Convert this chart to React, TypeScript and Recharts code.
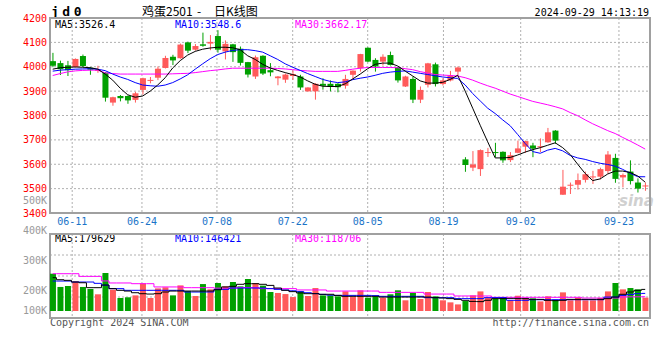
import React from 'react';
import { ComposedChart, Bar, Line, XAxis, YAxis, CartesianGrid, ReferenceArea, Cell } from 'recharts';

// ---- data ----
const OPEN = [4023,4015,4006,3999,4044,3996,3985,3976,3853,3880, 3880,3864,3905,3944,3955,3995,4041,4035,4100,4070,
  4092,4095,4126,4063,4092,4074,4019,3960,4045,3986, 3953,3947,3962,3960,3899,3899,3930,3930,3930,3922,
  3967,3994,4078,4028,4021,4048,3998,3919,3950,3865, 3926,4010,3929,3944,3980,3620,3586,3580,3648,3650,
  3651,3617,3647,3672,3677,3672,3690,3738,3475,3514, 3516,3536,3547,3549,3572,3626,3546,3570,3525,3510];
const HIGH = [4057,4025,4024,4034,4050,3998,4004,3978,3877,3884, 3882,3897,3955,3958,4001,4045,4049,4095,4103,4093,
  4140,4130,4150,4108,4094,4083,4020,4046,4047,4015, 3962,3972,3985,3967,3916,3933,3953,3944,3933,3967,
  3985,4053,4079,4035,4051,4062,4000,3963,3960,3919, 4016,4017,3953,3983,4001,3629,3654,3661,3667,3688,
  3653,3650,3697,3697,3688,3706,3749,3740,3577,3525, 3562,3570,3573,3586,3654,3643,3562,3616,3542,3525];
const LOW = [3998,3966,3962,3997,3998,3967,3975,3857,3840,3858, 3848,3853,3886,3932,3945,3993,4007,4033,4056,4066,
  4082,4068,4058,4030,4020,4005,3956,3950,3966,3961, 3924,3934,3946,3905,3898,3865,3906,3899,3895,3910,
  3949,3980,4019,3980,4005,4005,3935,3917,3851,3851, 3915,3919,3923,3940,3964,3569,3572,3552,3630,3629,
  3606,3609,3645,3647,3629,3650,3688,3684,3474,3478, 3496,3525,3519,3538,3561,3524,3505,3517,3484,3491];
const CLOSE = [4004,3990,3986,4032,4003,3988,3987,3873,3875,3871, 3862,3891,3953,3946,3992,4036,4026,4091,4066,4085,
  4086,4102,4070,4094,4060,4016,3968,4039,3972,3977, 3960,3968,3970,3915,3915,3930,3922,3917,3916,3950,
  3984,4052,4021,4001,4041,4007,3944,3960,3865,3905, 4014,3929,3944,3964,3997,3597,3599,3658,3650,3648,
  3616,3637,3665,3695,3664,3674,3731,3697,3508,3516, 3535,3559,3550,3580,3640,3540,3556,3531,3500,3513];

const MA5 = [3990,3996,3998,3999,3998,3996,3990,3970,3945,3912, 3885,3875,3880,3900,3925,3955,3995,4025,4048,4063,
  4072,4077,4080,4080,4078,4070,4045,4030,4010,3995, 3985,3976,3968,3958,3942,3928,3920,3919,3919,3930,
  3950,3970,3992,4010,4015,4015,4003,3982,3962,3942, 3933,3933,3936,3948,3965,3900,3830,3760,3692,3626,
  3626,3628,3638,3650,3660,3668,3678,3688,3668,3640, 3600,3562,3533,3540,3560,3572,3572,3566,3552,3526.4];
const MA10 = [3982,3986,3988,3990,3991,3992,3990,3984,3970,3958, 3948,3935,3925,3922,3920,3925,3935,3950,3967,3990,
  4012,4033,4050,4060,4067,4070,4070,4066,4060,4045, 4030,4012,3998,3985,3972,3960,3948,3940,3935,3938,
  3947,3953,3958,3965,3973,3978,3981,3983,3978,3973, 3968,3963,3958,3955,3952,3925,3890,3860,3830,3808,
  3782,3758,3722,3685,3652,3645,3658,3665,3655,3636, 3626,3620,3611,3604,3599,3592,3579,3563,3549,3548.6];
const MA30 = [3964,3972,3979,3983,3985,3986,3986,3975,3972,3970, 3970,3970,3970,3970,3970,3970,3971,3972,3973,3976,
  3980,3984,3987,3991,3994,3994,3994,3994,3994,3994, 3993,3991,3988,3985,3983,3981,3981,3981,3981,3985,
  3990,3994,3997,3997,3997,3997,3996,3992,3988,3980, 3974,3968,3966,3964,3962,3955,3945,3933,3922,3912,
  3900,3888,3878,3868,3858,3851,3844,3836,3827,3812, 3799,3782,3766,3752,3738,3726,3710,3695,3679,3662.17];

// volumes in thousands (K)
const VOL_K = [310,200,208,247,200,183,139,316,177,108, 114,130,230,108,188,197,130,213,166,125,
  224,180,233,205,241,205,266,233,211,158, 150,141,116,166,125,191,130,130,122,163,
  116,172,111,122,111,139,172,89,150,100, 158,122,89,72,55,83,130,163,111,103,
  111,89,127,108,105,80,122,94,155,89, 111,89,89,108,163,233,180,191,180,111];
const VMA5_K = [277,260,255,241,235,194,194,216,186,172, 166,152,144,141,144,158,166,166,166,166,
  166,166,177,200,205,222,227,227,222,213, 191,172,161,150,144,144,139,139,130,122,
  122,122,122,122,116,116,116,116,116,116, 116,111,108,103,97,89,80,78,89,103,
  103,105,105,103,97,97,89,86,89,97, 97,97,97,97,103,116,139,158,172,179.629];
const VMA10_K = [249,249,249,241,241,241,230,215,186,186, 172,172,172,172,172,172,172,172,158,158,
  158,158,180,180,191,191,191,191,191,186, 180,175,168,160,152,145,138,132,130,130,
  130,130,130,128,122,122,122,122,122,122, 111,111,111,111,103,103,103,103,111,111,
  111,89,89,89,94,94,94,94,94,94, 94,94,94,94,116,116,130,138,144,146.421];
const VMA30_K = [310,310,310,310,288,288,288,250,233,233, 233,227,227,227,200,200,200,200,194,194,
  194,194,190,190,190,195,195,195,186,186, 186,186,186,175,175,175,175,166,166,166,
  166,166,166,166,155,155,155,155,155,155, 141,141,141,141,125,125,125,125,125,114,
  114,114,114,114,114,114,114,114,114,114, 114,108,108,108,108,108,116,118,118,118.706];

const DATE_TICK_LABELS = ['06-11', '06-24', '07-08', '07-22', '08-05', '08-19', '09-02', '09-23'];
const DATE_TICK_POS = [2.6, 11.9, 21.9, 32.0, 42.0, 52.1, 62.4, 75.5];
const PRICE_TICKS = [3400, 3500, 3600, 3700, 3800, 3900, 4000, 4100, 4200];
const VOL_AXIS_LABELS = ['500K', '400K', '300K', '200K', '100K'];

const TITLE_CODE = 'jd0';
const TITLE_NAME = '鸡蛋2501';
const TITLE_KIND = '日K线图';
const TIMESTAMP = '2024-09-29 14:13:19';
const PRICE_LEGEND = ['MA5:3526.4', 'MA10:3548.6', 'MA30:3662.17'];
const VOL_LEGEND = ['MA5:179629', 'MA10:146421', 'MA30:118706'];

// ---- styles ----
const RED = '#ff5a5a';
const GREEN = '#00a000';
const GRID = '#b0b0b0';
const BORDER = '#a0a0a0';
const BLUE_TXT = '#1a74c8';
const MONO = '"DejaVu Sans Mono", monospace';
const LEGEND_COLORS = ['#000000', '#0000ff', '#ff00ff'];
const LEGEND_X = [55, 175, 295];
const VOL_LABEL_Y = [204, 234, 264, 294, 314];
const X_DOMAIN: [number, number] = [-0.36, 79.64];

const rows = CLOSE.map((c, i) => ({
  i,
  open: OPEN[i],
  high: HIGH[i],
  low: LOW[i],
  close: c,
  range: [LOW[i], HIGH[i]],
  ma5: MA5[i],
  ma10: MA10[i],
  ma30: MA30[i],
  vol: VOL_K[i] * 1000,
  vma5: VMA5_K[i] * 1000,
  vma10: VMA10_K[i] * 1000,
  vma30: VMA30_K[i] * 1000,
  up: c >= OPEN[i],
}));

function Candle(props: any) {
  const { x, y, width, height, payload } = props;
  if (x == null || y == null || !payload) return null;
  const top = Math.min(y, y + height);
  const h = Math.abs(height);
  const { open, close, high, low } = payload;
  const color = close >= open ? RED : GREEN;
  const span = high - low || 1;
  const py = (v: number) => top + ((high - v) / span) * h;
  const cx = x + width / 2;
  const bTop = py(Math.max(open, close));
  const bBot = py(Math.min(open, close));
  return (
    <g>
      <line x1={cx} x2={cx} y1={top} y2={top + h} stroke={color} strokeWidth={1} />
      <rect x={x} y={bTop} width={width} height={Math.max(bBot - bTop, 1)} fill={color} />
    </g>
  );
}

const dateLabel = (v: number) => {
  const k = DATE_TICK_POS.indexOf(v);
  return k >= 0 ? DATE_TICK_LABELS[k] : '';
};

export default function App() {
  return (
    <div style={{ position: 'absolute', left: 0, top: 0, width: 660, height: 360, background: '#fff', overflow: 'hidden' }}>
      <svg width={660} height={360} style={{ position: 'absolute', left: 0, top: 0 }}>
        <text x={51} y={15.5} fontFamily={MONO} fontWeight="bold" fontSize={13} letterSpacing={3.5} fill="#000">{TITLE_CODE}</text>
        <text y={15.5} fontFamily='"Noto Sans CJK SC", sans-serif' fontSize={12} fill="#000">
          <tspan x={142}>{TITLE_NAME}</tspan>
          <tspan x={197}>-</tspan>
          <tspan x={214}>{TITLE_KIND}</tspan>
        </text>
        <text x={649} y={15.5} textAnchor="end" fontFamily={MONO} fontSize={10} fill="#000">{TIMESTAMP}</text>
        {PRICE_LEGEND.map((t, k) => (
          <text key={'pl' + k} x={LEGEND_X[k]} y={27.5} fontFamily={MONO} fontSize={10} fill={LEGEND_COLORS[k]}>{t}</text>
        ))}
        {VOL_LEGEND.map((t, k) => (
          <text key={'vl' + k} x={LEGEND_X[k]} y={242} fontFamily={MONO} fontSize={10} fill={LEGEND_COLORS[k]}>{t}</text>
        ))}
        {VOL_AXIS_LABELS.map((t, k) => (
          <text key={'va' + k} x={47} y={VOL_LABEL_Y[k]} textAnchor="end" fontFamily={MONO} fontSize={10} fill="#999">{t}</text>
        ))}
        <text x={50} y={326} fontFamily={MONO} fontSize={10} fill="#555">Copyright 2024 SINA.COM</text>
        <text x={649} y={326} textAnchor="end" fontFamily={MONO} fontSize={10} fill="#555">http://finance.sina.com.cn</text>
        <text x={619} y={206} fontFamily='"DejaVu Sans", sans-serif' fontStyle="italic" fontWeight="bold" fontSize={15} fill="#d0d0d0">sina</text>
      </svg>

      <div style={{ position: 'absolute', left: 0, top: 0 }}>
        <ComposedChart width={660} height={232} data={rows} margin={{ top: 18, right: 10, bottom: 0, left: 0 }}>
          <CartesianGrid stroke={GRID} strokeDasharray="2 2" />
          <XAxis
            type="number"
            dataKey="i"
            domain={X_DOMAIN}
            ticks={DATE_TICK_POS}
            interval={0}
            tickFormatter={dateLabel}
            height={19}
            tickLine={false}
            axisLine={false}
            tickSize={0}
            tickMargin={5}
            tick={{ fill: BLUE_TXT, fontSize: 10, fontFamily: MONO }}
            allowDataOverflow
          />
          <YAxis
            domain={[3400, 4200]}
            ticks={PRICE_TICKS}
            interval={0}
            width={50}
            tickLine={false}
            axisLine={false}
            tickSize={0}
            tickMargin={3}
            tick={{ fill: '#ff0000', fontSize: 10, fontFamily: MONO }}
            allowDataOverflow
          />
          <Bar dataKey="range" barSize={6} shape={<Candle />} isAnimationActive={false} />
          <Line type="linear" dataKey="ma30" stroke="#ff00ff" strokeWidth={1} dot={false} isAnimationActive={false} />
          <Line type="linear" dataKey="ma10" stroke="#0000ff" strokeWidth={1} dot={false} isAnimationActive={false} />
          <Line type="linear" dataKey="ma5" stroke="#000000" strokeWidth={1} dot={false} isAnimationActive={false} />
          <ReferenceArea x1={X_DOMAIN[0]} x2={X_DOMAIN[1]} y1={3400} y2={4200} fill="none" stroke={BORDER} strokeWidth={2} ifOverflow="visible" />
        </ComposedChart>
      </div>

      <div style={{ position: 'absolute', left: 0, top: 220 }}>
        <ComposedChart width={660} height={110} data={rows} margin={{ top: 14, right: 10, bottom: 12, left: 50 }}>
          <CartesianGrid
            stroke={GRID}
            strokeDasharray="2 2"
            horizontalCoordinatesGenerator={(p: any) => [1, 2, 3].map((k) => p.offset.top + (p.offset.height * k) / 4)}
          />
          <XAxis type="number" dataKey="i" domain={X_DOMAIN} ticks={DATE_TICK_POS} interval={0} hide allowDataOverflow />
          <YAxis domain={[-58000, 640000]} hide allowDataOverflow />
          <Bar dataKey="vol" barSize={6} isAnimationActive={false}>
            {rows.map((r, k) => (
              <Cell key={k} fill={r.up ? RED : GREEN} />
            ))}
          </Bar>
          <Line type="step" dataKey="vma30" stroke="#ff00ff" strokeWidth={1} dot={false} isAnimationActive={false} />
          <Line type="step" dataKey="vma10" stroke="#0000ff" strokeWidth={1} dot={false} isAnimationActive={false} />
          <Line type="step" dataKey="vma5" stroke="#000000" strokeWidth={1} dot={false} isAnimationActive={false} />
          <ReferenceArea x1={X_DOMAIN[0]} x2={X_DOMAIN[1]} y1={-58000} y2={640000} fill="none" stroke={BORDER} strokeWidth={2} ifOverflow="visible" />
        </ComposedChart>
      </div>
    </div>
  );
}
